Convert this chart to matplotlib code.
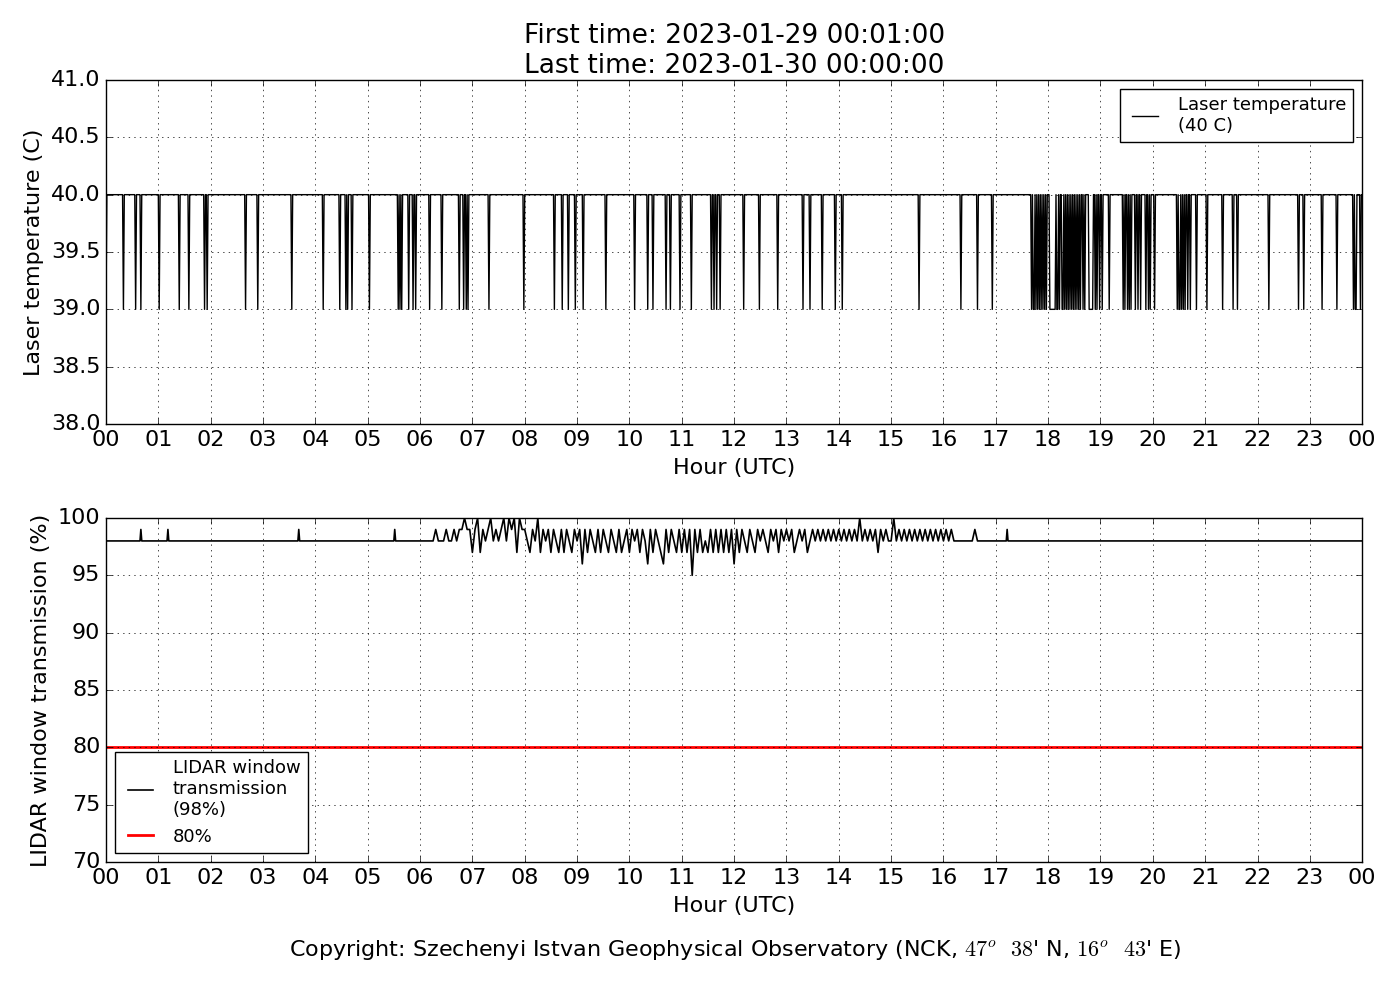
import numpy as np
import matplotlib
matplotlib.use('Agg')
import matplotlib.pyplot as plt

plt.style.use('classic')

hours = list(range(25))
hour_labels = ['%02d' % (h % 24) for h in hours]

# laser temperature, 40 C with one-minute drops to 39 C (hour of the drop)
dip_hours = [0.0, 0.33, 0.57, 0.66, 1.02, 1.40, 1.59, 1.89, 1.93, 2.66, 2.90,
             3.55, 4.15, 4.47, 4.59, 4.62, 4.70, 5.03, 5.58, 5.62, 5.65, 5.78,
             5.87, 5.92, 6.18, 6.42, 6.75, 6.84, 6.88, 6.92, 7.31, 7.99, 8.56,
             8.72, 8.83, 8.96, 9.12, 9.55, 10.10, 10.35, 10.45, 10.70, 10.78,
             10.96, 11.19, 11.57, 11.62, 11.66, 11.73, 12.18, 12.48, 12.84,
             13.32, 13.45, 13.69, 13.93, 14.06, 15.54, 16.33, 16.65, 16.93,
             17.69, 17.72, 17.74, 17.77, 17.80, 17.83, 17.86, 17.90, 17.93,
             17.96, 18.13, 18.16, 18.19, 18.22, 18.26, 18.29, 18.32, 18.35,
             18.38, 18.42, 18.45, 18.48, 18.52, 18.55, 18.58, 18.62, 18.66,
             18.70, 18.90, 18.94, 18.99, 19.03, 19.17, 19.43, 19.47, 19.51,
             19.55, 19.59, 19.66, 19.71, 19.76, 19.87, 19.91, 19.95, 20.03,
             20.47, 20.50, 20.52, 20.55, 20.58, 20.62, 20.66, 20.71, 20.83,
             21.04, 21.33, 21.54, 21.61, 22.22, 22.78, 22.89, 23.24, 23.52,
             23.83, 23.86, 23.89, 23.96]
long_dip_start = [18.03, 18.78]
long_dip_len = [6, 5]

# LIDAR window transmission, 98 % with single-minute rises to 99 %
spike_hours = [0.67, 1.18, 3.69, 5.51, 17.22]
# busy part 06:00-17:00, one value every 3 minutes, one row per hour
busy_values = [
    98, 98, 98, 98, 98, 98, 99, 98, 98, 98, 99, 98, 98, 99, 98, 99, 99, 100, 99, 99,
    97, 99, 100, 97, 99, 98, 99, 100, 98, 99, 98, 99, 100, 98, 100, 99, 100, 97, 100, 99,
    99, 98, 97, 99, 98, 100, 97, 99, 98, 99, 97, 99, 98, 97, 99, 97, 99, 98, 97, 99,
    98, 99, 96, 99, 97, 99, 98, 97, 99, 97, 99, 98, 97, 99, 98, 97, 99, 97, 98, 99,
    97, 99, 98, 99, 97, 99, 98, 96, 99, 97, 99, 98, 97, 96, 99, 97, 99, 98, 97, 99,
    97, 99, 97, 99, 95, 99, 97, 99, 97, 98, 97, 99, 97, 99, 97, 99, 97, 99, 97, 99,
    96, 99, 97, 99, 98, 97, 99, 98, 97, 99, 98, 99, 98, 97, 99, 98, 99, 97, 99, 98,
    99, 98, 99, 97, 98, 99, 98, 99, 97, 98, 99, 98, 99, 98, 99, 98, 99, 98, 99, 98,
    99, 98, 99, 98, 99, 98, 99, 98, 100, 98, 99, 98, 99, 98, 99, 97, 99, 98, 99, 98,
    98, 100, 98, 99, 98, 99, 98, 99, 98, 99, 98, 99, 98, 99, 98, 99, 98, 99, 98, 99,
    98, 99, 98, 99, 98, 98, 98, 98, 98, 98, 98, 98, 99, 98, 98, 98, 98, 98, 98, 98,
]
busy_start = 6
busy_step_min = 3


# temperature series, one value per minute
minutes = np.arange(0, 24 * 60 + 1)
temp = np.full(minutes.size, 40.0)
for h in dip_hours:
    temp[int(round(h * 60))] = 39.0
for h, n in zip(long_dip_start, long_dip_len):
    i = int(round(h * 60))
    temp[i:i + n] = 39.0

# transmission series
busy_end = busy_start * 60 + len(busy_values) * busy_step_min
quiet = (minutes < busy_start * 60) | (minutes >= busy_end)
lt = minutes[quiet] / 60.0
lv = np.full(lt.size, 98.0)
for h in spike_hours:
    lv[np.argmin(np.abs(lt - h))] = 99.0
bt = busy_start + np.arange(len(busy_values)) * busy_step_min / 60.0
t_all = np.concatenate([lt, bt])
v_all = np.concatenate([lv, np.array(busy_values, dtype=float)])
order = np.argsort(t_all)
t_all = t_all[order]
v_all = v_all[order]

fig = plt.figure(figsize=(14, 10), dpi=100, facecolor='white')
ax1 = fig.add_axes([0.0757, 0.576, 0.8973, 0.344])
ax2 = fig.add_axes([0.0757, 0.138, 0.8973, 0.344])

ax1.plot(minutes / 60.0, temp, 'k-', lw=1, label='Laser temperature\n(40 C)')
ax1.set_ylim(38, 41)
ax1.set_yticks(np.arange(38, 41.01, 0.5))
ax1.set_yticklabels(['%.1f' % y for y in np.arange(38, 41.01, 0.5)])
ax1.set_ylabel('Laser temperature (C)', fontsize=16)
ax1.legend(loc='upper right', fontsize=13)
ax1.set_title('First time: 2023-01-29 00:01:00\nLast time: 2023-01-30 00:00:00',
              fontsize=19)

ax2.plot(t_all, v_all, 'k-', lw=1.2, label='LIDAR window\ntransmission\n(98%)')
ax2.axhline(80, color='red', lw=2, label='80%')
ax2.set_ylim(70, 100)
ax2.set_yticks(range(70, 101, 5))
ax2.set_ylabel('LIDAR window transmission (%)', fontsize=16)
ax2.legend(loc='lower left', fontsize=13)

for ax in (ax1, ax2):
    ax.set_xlim(0, 24)
    ax.set_xticks(hours)
    ax.set_xticklabels(hour_labels)
    ax.set_xlabel('Hour (UTC)', fontsize=16, labelpad=6)
    ax.tick_params(labelsize=16)
    ax.grid(True)

fig.text(0.525, 0.05, "Copyright: Szechenyi Istvan Geophysical Observatory "
         "(NCK, $47^o$  $38$' N, $16^o$  $43$' E)",
         ha='center', va='center', fontsize=16)

fig.savefig('out.png', dpi=100, facecolor='white')
